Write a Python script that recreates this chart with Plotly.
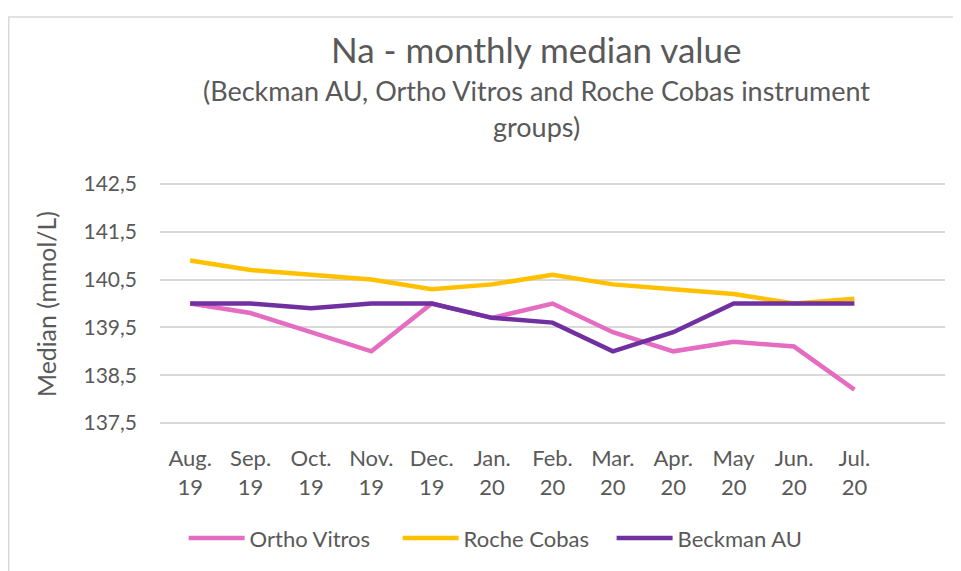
import plotly.graph_objects as go

months = ["Aug.<br>19", "Sep.<br>19", "Oct.<br>19", "Nov.<br>19", "Dec.<br>19", "Jan.<br>20",
          "Feb.<br>20", "Mar.<br>20", "Apr.<br>20", "May<br>20", "Jun.<br>20", "Jul.<br>20"]
ortho_vitros = [140.0, 139.8, 139.4, 139.0, 140.0, 139.7, 140.0, 139.4, 139.0, 139.2, 139.1, 138.2]
roche_cobas = [140.9, 140.7, 140.6, 140.5, 140.3, 140.4, 140.6, 140.4, 140.3, 140.2, 140.0, 140.1]
beckman_au = [140.0, 140.0, 139.9, 140.0, 140.0, 139.7, 139.6, 139.0, 139.4, 140.0, 140.0, 140.0]
y_ticks = [137.5, 138.5, 139.5, 140.5, 141.5, 142.5]

FONT = "Lato"
GREY = "#595959"

fig = go.Figure()
series = [("Ortho Vitros", ortho_vitros, "#E46CC1"),
          ("Roche Cobas", roche_cobas, "#FFC000"),
          ("Beckman AU", beckman_au, "#7030A0")]
for name, vals, col in series:
    fig.add_trace(go.Scatter(x=months, y=vals, name=name, mode="lines",
                             line=dict(color=col, width=4.5, shape="linear")))

fig.update_layout(
    width=953, height=563,
    margin=dict(l=152, r=16, t=174, b=140, pad=0),
    paper_bgcolor="white", plot_bgcolor="white",
    separators=",.",
    font=dict(family=FONT, color=GREY, size=22),
    showlegend=True,
    legend=dict(orientation="h", x=0.439, y=-0.466, xanchor="center", yanchor="middle",
                font=dict(size=22, color=GREY), itemwidth=56, entrywidth=143,
                traceorder="normal"),
    xaxis=dict(type="category", categoryorder="array", categoryarray=months,
               range=[-0.5, 12.5], showgrid=False, zeroline=False, showline=False,
               ticks="", ticklabelstandoff=18, tickfont=dict(size=22, color=GREY),
               fixedrange=True),
    yaxis=dict(range=[137.46, 142.54], tickvals=y_ticks, tickformat=".1f",
               showgrid=True, gridcolor="#D9D9D9", gridwidth=1.5, zeroline=False,
               showline=False, ticks="", ticklabelstandoff=22,
               tickfont=dict(size=21, color=GREY)),
)

fig.add_annotation(text="Na - monthly median value", xref="paper", yref="paper",
                   x=0.48, y=1.546, xanchor="center", yanchor="middle", showarrow=False,
                   font=dict(size=35, color=GREY, family=FONT))
fig.add_annotation(text="(Beckman AU, Ortho Vitros and Roche Cobas instrument", xref="paper", yref="paper",
                   x=0.48, y=1.377, xanchor="center", yanchor="middle", showarrow=False,
                   font=dict(size=27, color=GREY, family=FONT))
fig.add_annotation(text="groups)", xref="paper", yref="paper",
                   x=0.48, y=1.227, xanchor="center", yanchor="middle", showarrow=False,
                   font=dict(size=27, color=GREY, family=FONT))
fig.add_annotation(text="Median (mmol/L)", xref="paper", yref="paper", textangle=-90,
                   x=-0.144, y=0.498, xanchor="center", yanchor="middle", showarrow=False,
                   font=dict(size=24.8, color=GREY, family=FONT))

fig.add_shape(type="rect", xref="paper", yref="paper",
              x0=-0.1927, y0=-0.7, x1=1.2, y1=1.679,
              line=dict(color="#D9D9D9", width=1.5), fillcolor="rgba(0,0,0,0)", layer="below")

fig.write_html("out.html")
